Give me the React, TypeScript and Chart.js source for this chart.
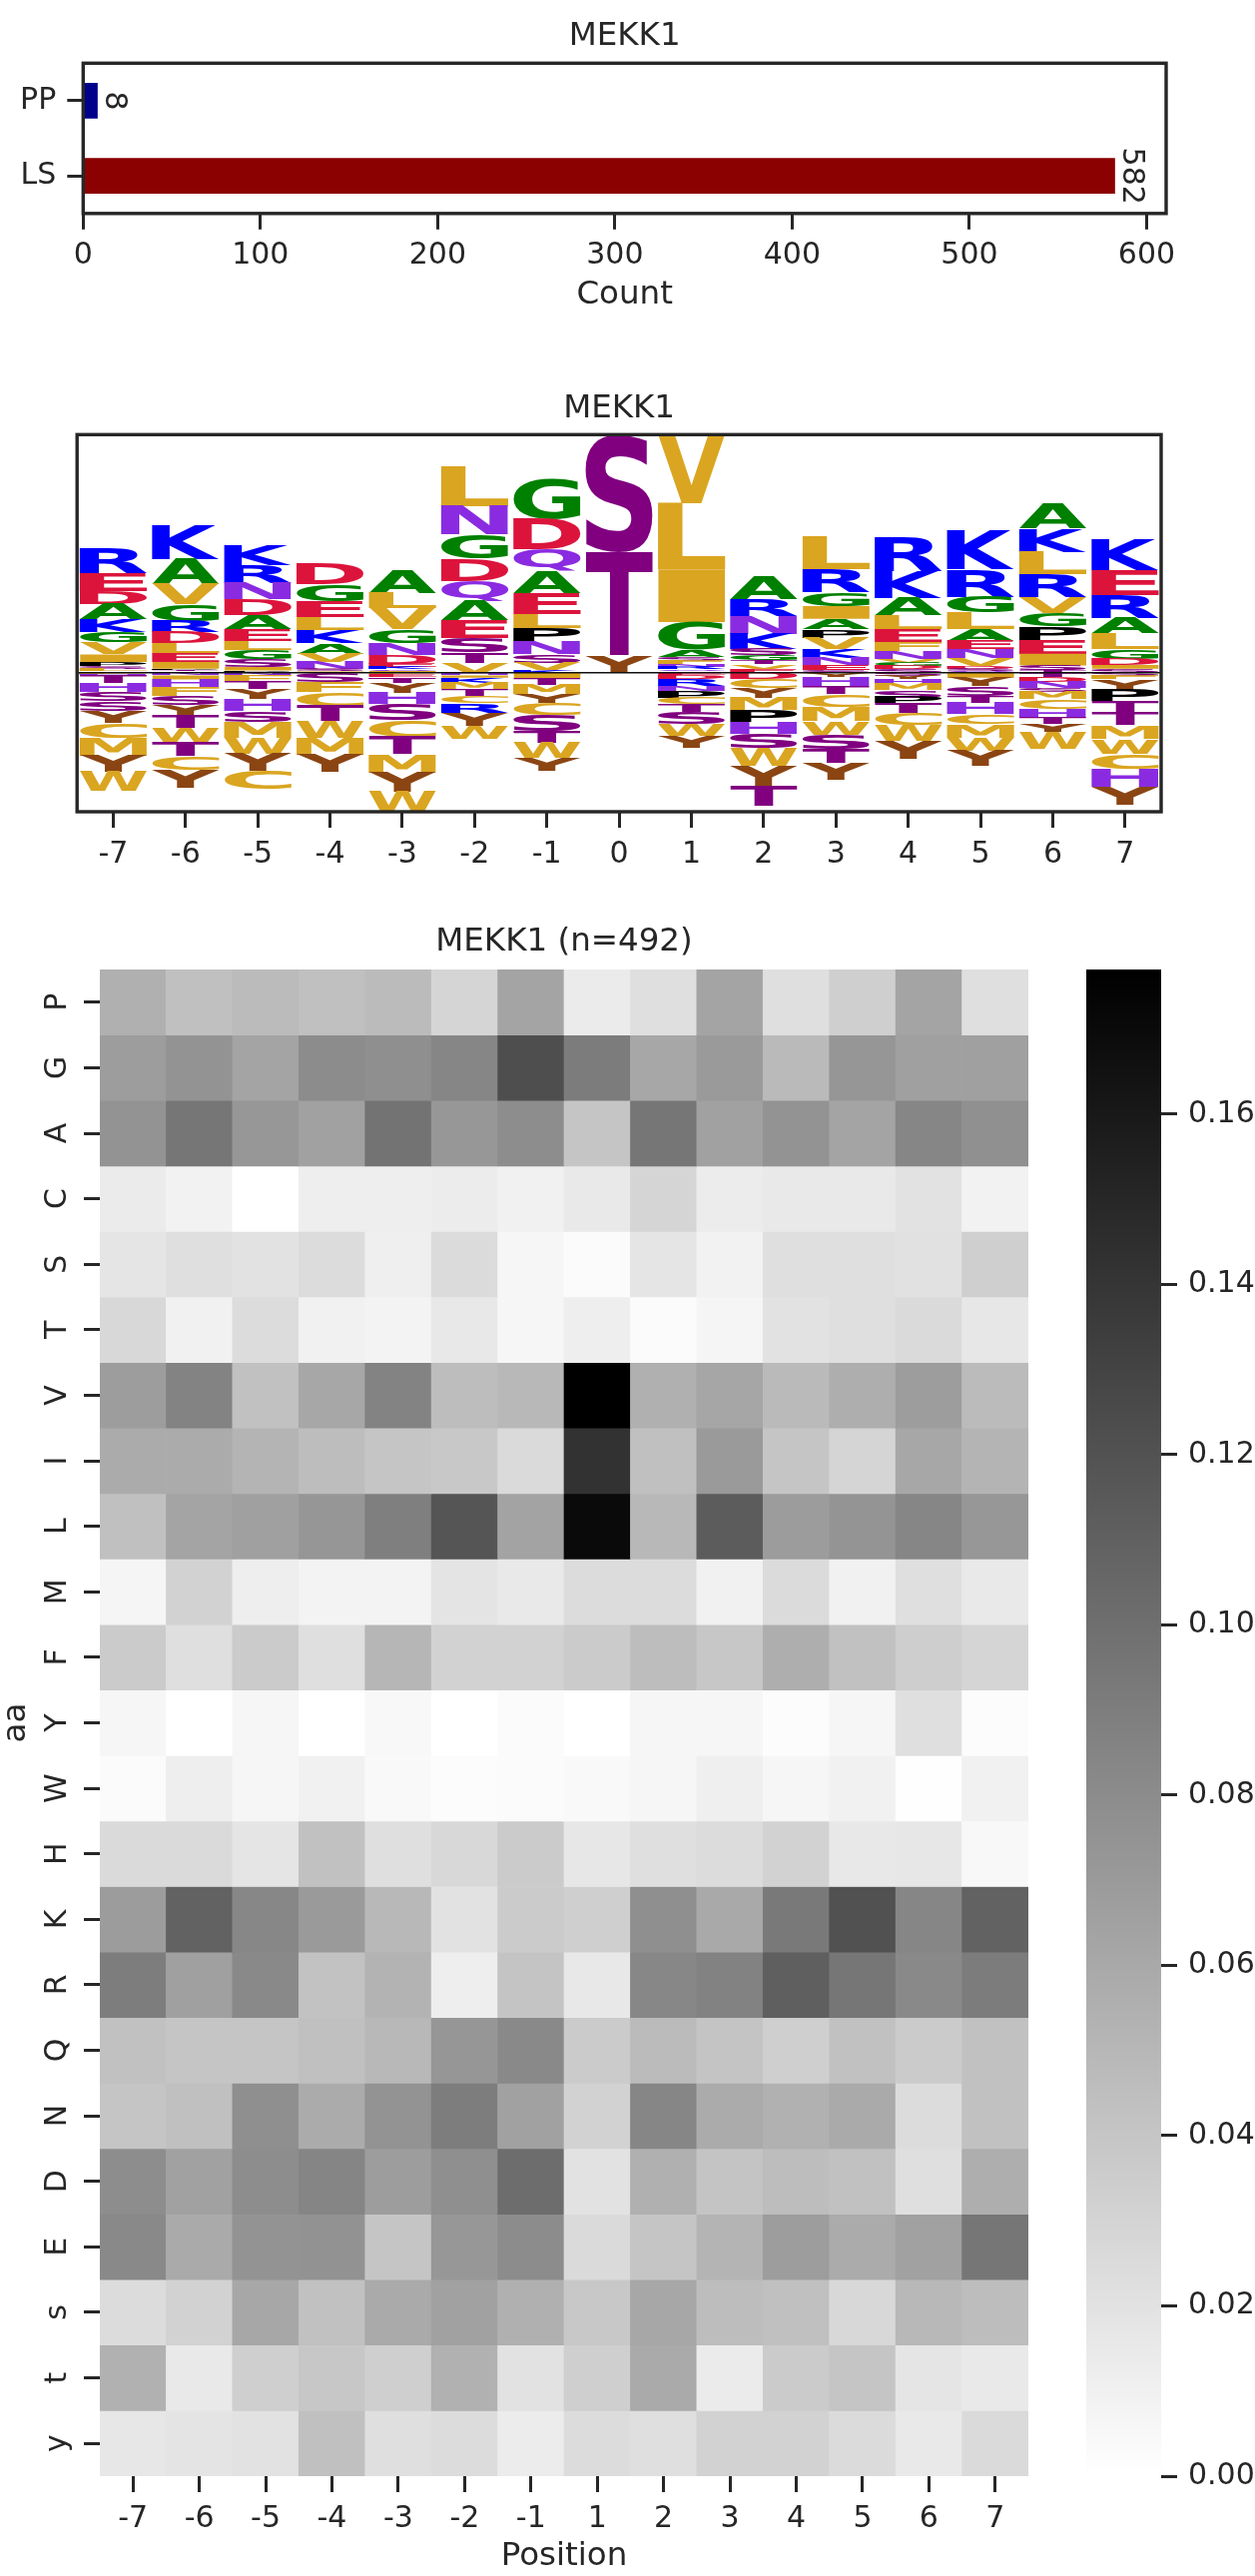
import React, { useEffect, useRef } from 'react';
import { Chart, registerables } from 'chart.js';

Chart.register(...registerables);

const FONT_FAMILY = '"DejaVu Sans", "Liberation Sans", sans-serif';
const INK = '#262626';
const TICK_FONT = 30;
const LABEL_FONT = 32.5;
Chart.defaults.font.family = FONT_FAMILY;
Chart.defaults.color = INK;

// ---------------- Panel 1: counts ----------------
const BAR_LABELS = ['PP', 'LS'];
const BAR_COUNTS = [8, 582];
const BAR_COLORS = ['#00008b', '#8b0000'];
const BAR_TICKS = [0, 100, 200, 300, 400, 500, 600];
const BAR_MAX = 611;

// ---------------- Panel 2: sequence logo ----------------
type Stack = [string, number][];
const LOGO_POSITIONS = [-7, -6, -5, -4, -3, -2, -1, 0, 1, 2, 3, 4, 5, 6, 7];
// positive values: letters above the baseline listed top -> bottom
// negative values: letters below the baseline listed baseline -> down
const LOGO_M7: Stack = [['R', 0.75], ['E', 0.55], ['D', 0.40], ['A', 0.45], ['K', 0.38], ['G', 0.32], ['V', 0.35], ['I', 0.23], ['P', 0.12], ['S', 0.08], ['L', 0.07], ['T', 0.05],
  ['F', -0.04], ['N', -0.04], ['T', -0.24], ['H', -0.26], ['S', -0.27], ['S', -0.30], ['Y', -0.35], ['C', -0.45], ['M', -0.53], ['Y', -0.50], ['W', -0.57]];
const LOGO_M6: Stack = [['K', 1.00], ['A', 0.77], ['V', 0.60], ['G', 0.50], ['R', 0.33], ['D', 0.34], ['L', 0.30], ['E', 0.26], ['I', 0.20], ['P', 0.04], ['T', 0.04], ['S', 0.04],
  ['N', -0.08], ['I', -0.12], ['H', -0.23], ['F', -0.27], ['S', -0.28], ['Y', -0.30], ['T', -0.37], ['W', -0.43], ['T', -0.42], ['C', -0.42], ['Y', -0.53]];
const LOGO_M5: Stack = [['K', 0.57], ['R', 0.53], ['N', 0.50], ['D', 0.48], ['A', 0.42], ['E', 0.35], ['L', 0.27], ['G', 0.28], ['S', 0.23], ['I', 0.10], ['P', 0.04], ['T', 0.03],
  ['N', -0.08], ['F', -0.20], ['T', -0.22], ['Y', -0.30], ['H', -0.35], ['S', -0.33], ['M', -0.47], ['W', -0.47], ['Y', -0.53], ['C', -0.55]];
const LOGO_M4: Stack = [['D', 0.60], ['G', 0.50], ['E', 0.47], ['L', 0.40], ['K', 0.40], ['A', 0.31], ['V', 0.25], ['N', 0.22], ['S', 0.06], ['I', 0.04],
  ['S', -0.28], ['F', -0.30], ['C', -0.42], ['T', -0.45], ['W', -0.50], ['M', -0.50], ['Y', -0.53]];
const LOGO_M3: Stack = [['A', 0.70], ['L', 0.45], ['V', 0.65], ['G', 0.42], ['N', 0.36], ['D', 0.25], ['E', 0.10], ['K', 0.07], ['Q', 0.05], ['I', 0.05],
  ['F', -0.08], ['E', -0.06], ['N', -0.04], ['T', -0.14], ['Y', -0.30], ['H', -0.33], ['S', -0.47], ['C', -0.50], ['T', -0.53], ['M', -0.55], ['Y', -0.58], ['W', -0.57]];
const LOGO_M2: Stack = [['L', 1.22], ['N', 0.85], ['G', 0.73], ['D', 0.67], ['Q', 0.60], ['A', 0.57], ['E', 0.53], ['S', 0.45], ['T', 0.30], ['V', 0.30],
  ['H', -0.08], ['I', -0.07], ['K', -0.15], ['M', -0.20], ['T', -0.20], ['C', -0.22], ['R', -0.28], ['Y', -0.38], ['W', -0.40]];
const LOGO_M1: Stack = [['G', 1.23], ['D', 0.92], ['Q', 0.65], ['A', 0.65], ['E', 0.63], ['L', 0.42], ['P', 0.40], ['N', 0.40], ['S', 0.25], ['V', 0.22], ['K', 0.08],
  ['I', -0.18], ['T', -0.18], ['M', -0.29], ['Y', -0.27], ['C', -0.36], ['S', -0.47], ['T', -0.35], ['W', -0.45], ['Y', -0.40]];
const LOGO_0: Stack = [['S', 3.54], ['T', 3.10], ['Y', 0.50]];
const LOGO_P1: Stack = [['V', 2.06], ['L', 1.98], ['I', 1.58], ['G', 0.84], ['A', 0.20], ['S', 0.13], ['F', 0.10], ['N', 0.08], ['R', 0.07], ['Q', 0.05], ['K', 0.05],
  ['E', -0.08], ['D', -0.12], ['R', -0.20], ['N', -0.15], ['P', -0.20], ['C', -0.20], ['T', -0.23], ['S', -0.37], ['W', -0.35], ['Y', -0.35]];
const LOGO_P2: Stack = [['A', 0.68], ['R', 0.50], ['N', 0.55], ['K', 0.45], ['S', 0.18], ['G', 0.14], ['T', 0.13], ['V', 0.13], ['E', 0.12],
  ['D', -0.18], ['C', -0.27], ['Y', -0.30], ['M', -0.37], ['P', -0.36], ['H', -0.34], ['S', -0.43], ['W', -0.55], ['Y', -0.58], ['T', -0.60]];
const LOGO_P3: Stack = [['L', 0.98], ['R', 0.68], ['G', 0.42], ['I', 0.38], ['A', 0.32], ['P', 0.25], ['V', 0.33], ['K', 0.27], ['N', 0.23], ['E', 0.14], ['S', 0.08],
  ['Y', -0.13], ['H', -0.27], ['T', -0.25], ['C', -0.37], ['M', -0.43], ['W', -0.40], ['S', -0.45], ['T', -0.42], ['Y', -0.50]];
const LOGO_P4: Stack = [['R', 1.00], ['K', 0.80], ['A', 0.53], ['L', 0.42], ['E', 0.38], ['F', 0.27], ['N', 0.23], ['V', 0.12], ['G', 0.10], ['D', 0.10], ['S', 0.10],
  ['S', -0.10], ['Y', -0.10], ['H', -0.15], ['M', -0.18], ['S', -0.22], ['P', -0.17], ['T', -0.30], ['C', -0.36], ['W', -0.47], ['Y', -0.53]];
const LOGO_P5: Stack = [['K', 1.17], ['R', 0.82], ['G', 0.48], ['L', 0.50], ['A', 0.35], ['E', 0.25], ['N', 0.27], ['V', 0.23], ['D', 0.08], ['S', 0.06], ['Q', 0.06],
  ['I', -0.15], ['Y', -0.25], ['S', -0.30], ['T', -0.20], ['H', -0.35], ['C', -0.30], ['M', -0.40], ['W', -0.40], ['Y', -0.45]];
const LOGO_P6: Stack = [['A', 0.73], ['K', 0.69], ['L', 0.68], ['R', 0.68], ['V', 0.47], ['G', 0.42], ['P', 0.40], ['E', 0.41], ['I', 0.35], ['S', 0.14], ['T', 0.08],
  ['T', -0.12], ['D', -0.16], ['N', -0.17], ['S', -0.13], ['M', -0.22], ['C', -0.30], ['H', -0.25], ['T', -0.20], ['Y', -0.23], ['W', -0.50]];
const LOGO_P7: Stack = [['K', 0.93], ['E', 0.75], ['R', 0.69], ['A', 0.45], ['L', 0.46], ['G', 0.30], ['D', 0.19], ['I', 0.11], ['S', 0.12],
  ['S', -0.10], ['F', -0.10], ['Y', -0.32], ['P', -0.33], ['T', -0.35], ['T', -0.38], ['M', -0.40], ['W', -0.44], ['C', -0.46], ['H', -0.54], ['Y', -0.53]];
const LOGO_STACKS = [LOGO_M7, LOGO_M6, LOGO_M5, LOGO_M4, LOGO_M3, LOGO_M2, LOGO_M1, LOGO_0,
  LOGO_P1, LOGO_P2, LOGO_P3, LOGO_P4, LOGO_P5, LOGO_P6, LOGO_P7];
const LOGO_YMIN = -4.17;
const LOGO_YMAX = 7.14;
const LETTER_HALF_WIDTH = 0.465;
const LETTER_COLORS: Record<string, string> = {
  A: '#008000', G: '#008000',
  K: '#0000ff', R: '#0000ff',
  D: '#dc143c', E: '#dc143c',
  N: '#8a2be2', Q: '#8a2be2', H: '#8a2be2',
  S: '#800080', T: '#800080',
  Y: '#8b4513',
  L: '#daa520', V: '#daa520', I: '#daa520', M: '#daa520', F: '#daa520', W: '#daa520', C: '#daa520',
  P: '#000000',
};

// ---------------- Panel 3: heatmap ----------------
const HEAT_POSITIONS = ['-7', '-6', '-5', '-4', '-3', '-2', '-1', '1', '2', '3', '4', '5', '6', '7'];
const HEAT_AA = ['P', 'G', 'A', 'C', 'S', 'T', 'V', 'I', 'L', 'M', 'F', 'Y', 'W', 'H', 'K', 'R', 'Q', 'N', 'D', 'E', 's', 't', 'y'];
const HEAT_P = [0.055, 0.044, 0.047, 0.044, 0.047, 0.029, 0.063, 0.014, 0.022, 0.063, 0.022, 0.033, 0.063, 0.022];
const HEAT_G = [0.068, 0.075, 0.063, 0.080, 0.078, 0.084, 0.123, 0.091, 0.061, 0.070, 0.048, 0.073, 0.066, 0.066];
const HEAT_A = [0.075, 0.095, 0.072, 0.065, 0.097, 0.072, 0.079, 0.040, 0.095, 0.065, 0.075, 0.063, 0.084, 0.077];
const HEAT_C = [0.014, 0.009, 0.000, 0.012, 0.012, 0.013, 0.010, 0.015, 0.029, 0.013, 0.015, 0.015, 0.020, 0.009];
const HEAT_S = [0.018, 0.022, 0.020, 0.024, 0.011, 0.025, 0.006, 0.003, 0.018, 0.009, 0.022, 0.022, 0.021, 0.033];
const HEAT_T = [0.027, 0.010, 0.024, 0.010, 0.008, 0.016, 0.006, 0.012, 0.003, 0.007, 0.020, 0.022, 0.026, 0.017];
const HEAT_V = [0.068, 0.086, 0.043, 0.061, 0.086, 0.046, 0.049, 0.177, 0.055, 0.062, 0.048, 0.056, 0.068, 0.047];
const HEAT_I = [0.058, 0.058, 0.052, 0.046, 0.040, 0.038, 0.026, 0.142, 0.044, 0.070, 0.040, 0.029, 0.061, 0.052];
const HEAT_L = [0.044, 0.063, 0.066, 0.073, 0.089, 0.118, 0.064, 0.170, 0.049, 0.113, 0.069, 0.074, 0.084, 0.072];
const HEAT_M = [0.007, 0.031, 0.012, 0.008, 0.008, 0.019, 0.015, 0.024, 0.024, 0.010, 0.025, 0.010, 0.022, 0.015];
const HEAT_F = [0.036, 0.022, 0.036, 0.022, 0.051, 0.031, 0.031, 0.036, 0.046, 0.039, 0.056, 0.043, 0.034, 0.029];
const HEAT_Y = [0.006, 0.000, 0.006, 0.000, 0.005, 0.000, 0.003, 0.000, 0.006, 0.006, 0.002, 0.006, 0.022, 0.002];
const HEAT_W = [0.003, 0.012, 0.006, 0.010, 0.004, 0.002, 0.003, 0.004, 0.006, 0.011, 0.006, 0.010, 0.001, 0.010];
const HEAT_H = [0.026, 0.026, 0.018, 0.043, 0.022, 0.027, 0.036, 0.017, 0.022, 0.024, 0.031, 0.016, 0.017, 0.005];
const HEAT_K = [0.069, 0.109, 0.083, 0.070, 0.049, 0.020, 0.036, 0.033, 0.078, 0.060, 0.093, 0.121, 0.084, 0.109];
const HEAT_R = [0.090, 0.066, 0.082, 0.042, 0.053, 0.012, 0.041, 0.016, 0.083, 0.087, 0.111, 0.095, 0.082, 0.091];
const HEAT_Q = [0.043, 0.040, 0.040, 0.044, 0.049, 0.073, 0.082, 0.036, 0.047, 0.041, 0.033, 0.043, 0.036, 0.043];
const HEAT_N = [0.040, 0.044, 0.078, 0.058, 0.075, 0.090, 0.065, 0.031, 0.084, 0.058, 0.054, 0.059, 0.024, 0.043];
const HEAT_D = [0.079, 0.065, 0.079, 0.085, 0.068, 0.078, 0.101, 0.020, 0.055, 0.041, 0.046, 0.043, 0.022, 0.056];
const HEAT_E = [0.082, 0.059, 0.075, 0.076, 0.040, 0.072, 0.080, 0.026, 0.040, 0.052, 0.068, 0.058, 0.065, 0.095];
const HEAT_s = [0.024, 0.031, 0.061, 0.043, 0.059, 0.065, 0.055, 0.038, 0.061, 0.046, 0.044, 0.027, 0.049, 0.046];
const HEAT_t = [0.054, 0.015, 0.033, 0.039, 0.033, 0.054, 0.020, 0.033, 0.059, 0.014, 0.036, 0.040, 0.018, 0.015];
const HEAT_y = [0.017, 0.019, 0.020, 0.044, 0.022, 0.024, 0.013, 0.024, 0.022, 0.031, 0.031, 0.025, 0.015, 0.026];
const HEAT_ROWS = [HEAT_P, HEAT_G, HEAT_A, HEAT_C, HEAT_S, HEAT_T, HEAT_V, HEAT_I, HEAT_L, HEAT_M, HEAT_F, HEAT_Y,
  HEAT_W, HEAT_H, HEAT_K, HEAT_R, HEAT_Q, HEAT_N, HEAT_D, HEAT_E, HEAT_s, HEAT_t, HEAT_y];
const CBAR_TICKS = [0, 0.02, 0.04, 0.06, 0.08, 0.10, 0.12, 0.14, 0.16];
const VMIN = 0;
const VMAX = Math.max(...HEAT_ROWS.map((r) => Math.max(...r)));

// ---------------- helpers ----------------
const cellColor = (v: number) => {
  const g = Math.round(255 * (1 - (v - VMIN) / (VMAX - VMIN)));
  return `rgb(${g},${g},${g})`;
};

const glyphCache: Record<string, { gl: number; gr: number; ga: number; gd: number }> = {};
function drawGlyph(ctx: CanvasRenderingContext2D, ch: string, color: string, x0: number, x1: number, yTop: number, yBot: number) {
  const w = x1 - x0;
  const h = yBot - yTop;
  if (w <= 0 || h <= 0.05) return;
  ctx.save();
  ctx.font = `bold 200px ${FONT_FAMILY}`;
  ctx.textAlign = 'left';
  ctx.textBaseline = 'alphabetic';
  let g = glyphCache[ch];
  if (!g) {
    const m = ctx.measureText(ch);
    g = { gl: m.actualBoundingBoxLeft, gr: m.actualBoundingBoxRight, ga: m.actualBoundingBoxAscent, gd: m.actualBoundingBoxDescent };
    glyphCache[ch] = g;
  }
  const gw = g.gl + g.gr;
  const gh = g.ga + g.gd;
  ctx.translate(x0, yTop);
  ctx.scale(w / gw, h / gh);
  ctx.fillStyle = color;
  ctx.fillText(ch, g.gl, g.ga);
  ctx.restore();
}

const framePlugin = {
  id: 'frame',
  afterDraw(chart: any) {
    const { ctx, chartArea: a } = chart;
    ctx.save();
    ctx.strokeStyle = INK;
    ctx.lineWidth = 3.4;
    ctx.strokeRect(a.left, a.top, a.right - a.left, a.bottom - a.top);
    ctx.restore();
  },
};

const makeTitlePlugin = (text: string, y: number) => ({
  id: 'centerTitle',
  afterDraw(chart: any) {
    const { ctx, chartArea: a } = chart;
    ctx.save();
    ctx.font = `${LABEL_FONT}px ${FONT_FAMILY}`;
    ctx.fillStyle = INK;
    ctx.textAlign = 'center';
    ctx.textBaseline = 'middle';
    ctx.fillText(text, (a.left + a.right) / 2, y);
    ctx.restore();
  },
});

const tickGrid = (tickLength: number) => ({
  display: true,
  drawOnChartArea: false,
  drawTicks: true,
  tickLength,
  tickWidth: 3,
  tickColor: INK,
  offset: false,
});

// ---------------- chart configs ----------------
function barConfig(): any {
  const barLabelPlugin = {
    id: 'barLabels',
    afterDatasetsDraw(chart: any) {
      const { ctx } = chart;
      const meta = chart.getDatasetMeta(0);
      meta.data.forEach((bar: any, i: number) => {
        ctx.save();
        ctx.translate(bar.x + 8, bar.y);
        ctx.rotate(Math.PI / 2);
        ctx.font = `${TICK_FONT}px ${FONT_FAMILY}`;
        ctx.fillStyle = INK;
        ctx.textAlign = 'center';
        ctx.textBaseline = 'alphabetic';
        ctx.fillText(String(BAR_COUNTS[i]), 0, 0);
        ctx.restore();
      });
    },
  };
  return {
    type: 'bar',
    data: {
      labels: BAR_LABELS,
      datasets: [{ data: BAR_COUNTS, backgroundColor: BAR_COLORS, barThickness: 35, borderWidth: 0 }],
    },
    options: {
      indexAxis: 'y',
      animation: false,
      responsive: false,
      maintainAspectRatio: false,
      events: [],
      layout: { padding: { top: 63.3, left: 0, right: 89, bottom: 0 } },
      plugins: { legend: { display: false }, tooltip: { enabled: false }, title: { display: false } },
      scales: {
        x: {
          type: 'linear',
          min: 0,
          max: BAR_MAX,
          afterBuildTicks: (s: any) => { s.ticks = BAR_TICKS.map((v) => ({ value: v })); },
          afterFit: (s: any) => { s.height = 116.2; },
          grid: tickGrid(16),
          border: { display: false },
          ticks: { font: { size: TICK_FONT }, color: INK, padding: 8, maxRotation: 0, callback: (v: any) => String(v) },
          title: { display: true, text: 'Count', font: { size: LABEL_FONT }, color: INK, padding: { top: 0, bottom: 15 } },
        },
        y: {
          type: 'category',
          afterFit: (s: any) => { s.width = 83.3; },
          grid: tickGrid(16),
          border: { display: false },
          ticks: { font: { size: TICK_FONT }, color: INK, padding: 11 },
        },
      },
    },
    plugins: [barLabelPlugin, framePlugin, makeTitlePlugin('MEKK1', 36.2)],
  };
}

function logoConfig(): any {
  const logoPlugin = {
    id: 'logoLetters',
    beforeDatasetsDraw(chart: any) {
      const { ctx, chartArea: a, scales } = chart;
      const x = scales.x;
      const y = scales.y;
      ctx.save();
      ctx.beginPath();
      ctx.rect(a.left, a.top, a.right - a.left, a.bottom - a.top);
      ctx.clip();
      LOGO_STACKS.forEach((stack, i) => {
        const pos = LOGO_POSITIONS[i];
        const x0 = x.getPixelForValue(pos - LETTER_HALF_WIDTH);
        const x1 = x.getPixelForValue(pos + LETTER_HALF_WIDTH);
        let top = stack.reduce((t, s) => (s[1] > 0 ? t + s[1] : t), 0);
        let bottom = 0;
        stack.forEach(([ch, v]) => {
          const color = LETTER_COLORS[ch] || '#000';
          if (v > 0) {
            drawGlyph(ctx, ch, color, x0, x1, y.getPixelForValue(top), y.getPixelForValue(top - v));
            top -= v;
          } else {
            drawGlyph(ctx, ch, color, x0, x1, y.getPixelForValue(bottom), y.getPixelForValue(bottom + v));
            bottom += v;
          }
        });
      });
      const y0 = y.getPixelForValue(0);
      ctx.strokeStyle = '#111';
      ctx.lineWidth = 1.5;
      ctx.beginPath();
      ctx.moveTo(a.left, y0);
      ctx.lineTo(a.right, y0);
      ctx.stroke();
      ctx.restore();
    },
  };
  return {
    type: 'scatter',
    data: { datasets: [{ data: [] }] },
    options: {
      animation: false,
      responsive: false,
      maintainAspectRatio: false,
      events: [],
      layout: { padding: { top: 65.3, left: 77.2, right: 94, bottom: 0 } },
      plugins: { legend: { display: false }, tooltip: { enabled: false }, title: { display: false } },
      scales: {
        x: {
          type: 'linear',
          min: -7.5,
          max: 7.5,
          afterBuildTicks: (s: any) => { s.ticks = LOGO_POSITIONS.map((v) => ({ value: v })); },
          afterFit: (s: any) => { s.height = 67; },
          grid: tickGrid(16),
          border: { display: false },
          ticks: { font: { size: TICK_FONT }, color: INK, padding: 9, maxRotation: 0, callback: (v: any) => String(v) },
        },
        y: { type: 'linear', display: false, min: LOGO_YMIN, max: LOGO_YMAX },
      },
    },
    plugins: [logoPlugin, framePlugin, makeTitlePlugin('MEKK1', 39.2)],
  };
}

function heatmapConfig(): any {
  const yLabelPlugin = {
    id: 'rotatedYLabels',
    afterDraw(chart: any) {
      const { ctx, scales } = chart;
      ctx.save();
      ctx.font = `${TICK_FONT}px ${FONT_FAMILY}`;
      ctx.fillStyle = INK;
      ctx.textAlign = 'center';
      ctx.textBaseline = 'middle';
      HEAT_AA.forEach((aa, i) => {
        const yy = scales.y.getPixelForValue(i + 0.5);
        ctx.save();
        ctx.translate(58, yy);
        ctx.rotate(-Math.PI / 2);
        ctx.fillText(aa, 0, 0);
        ctx.restore();
      });
      ctx.restore();
    },
  };
  return {
    type: 'bar',
    data: {
      labels: HEAT_POSITIONS,
      datasets: HEAT_ROWS.map((row, r) => ({
        label: HEAT_AA[r],
        data: row.map(() => [r, r + 1]),
        backgroundColor: row.map(cellColor),
        borderWidth: 0,
        barPercentage: 1,
        categoryPercentage: 1,
        grouped: false,
      })),
    },
    options: {
      animation: false,
      responsive: false,
      maintainAspectRatio: false,
      events: [],
      layout: { padding: { top: 71, left: 0, right: 227, bottom: 0 } },
      plugins: { legend: { display: false }, tooltip: { enabled: false }, title: { display: false } },
      scales: {
        x: {
          type: 'category',
          afterFit: (s: any) => { s.height = 100; },
          grid: tickGrid(16),
          border: { display: false },
          ticks: { font: { size: TICK_FONT }, color: INK, padding: 9, maxRotation: 0, autoSkip: false },
          title: { display: true, text: 'Position', font: { size: LABEL_FONT }, color: INK, padding: { top: 0, bottom: 0 } },
        },
        y: {
          type: 'linear',
          min: 0,
          max: HEAT_AA.length,
          reverse: true,
          afterBuildTicks: (s: any) => { s.ticks = HEAT_AA.map((_, i) => ({ value: i + 0.5 })); },
          afterFit: (s: any) => { s.width = 100; },
          grid: tickGrid(16),
          border: { display: false },
          ticks: { display: false },
          title: { display: true, text: 'aa', font: { size: LABEL_FONT, lineHeight: 1 }, color: INK, padding: { top: 0, bottom: 0 } },
        },
      },
    },
    plugins: [yLabelPlugin, makeTitlePlugin('MEKK1 (n=492)', 43.7)],
  };
}

function colorbarConfig(): any {
  const gradientPlugin = {
    id: 'cbarGradient',
    beforeDatasetsDraw(chart: any) {
      const { ctx, chartArea: a, scales } = chart;
      const y0 = scales.y.getPixelForValue(VMIN);
      const y1 = scales.y.getPixelForValue(VMAX);
      const grad = ctx.createLinearGradient(0, y0, 0, y1);
      grad.addColorStop(0, cellColor(VMIN));
      grad.addColorStop(1, cellColor(VMAX));
      ctx.save();
      ctx.fillStyle = grad;
      ctx.fillRect(a.left, a.top, a.right - a.left, a.bottom - a.top);
      ctx.restore();
    },
  };
  return {
    type: 'scatter',
    data: { datasets: [{ data: [] }] },
    options: {
      animation: false,
      responsive: false,
      maintainAspectRatio: false,
      events: [],
      layout: { padding: { top: 31, left: 28, right: 0, bottom: 50 } },
      plugins: { legend: { display: false }, tooltip: { enabled: false }, title: { display: false } },
      scales: {
        x: { type: 'linear', display: false, min: 0, max: 1 },
        y: {
          type: 'linear',
          position: 'right',
          min: VMIN,
          max: VMAX,
          afterBuildTicks: (s: any) => { s.ticks = CBAR_TICKS.map((v) => ({ value: v })); },
          afterFit: (s: any) => { s.width = 94; },
          grid: tickGrid(16),
          border: { display: false },
          ticks: { font: { size: TICK_FONT }, color: INK, padding: 11, callback: (v: any) => Number(v).toFixed(2) },
        },
      },
    },
    plugins: [gradientPlugin],
  };
}

// ---------------- components ----------------
function ChartBox(props: { left: number; top: number; width: number; height: number; build: () => any }) {
  const { left, top, width, height, build } = props;
  const ref = useRef<HTMLCanvasElement | null>(null);
  useEffect(() => {
    if (!ref.current) return;
    const chart = new Chart(ref.current, build());
    return () => chart.destroy();
  }, []);
  return (
    <canvas
      ref={ref}
      width={width}
      height={height}
      style={{ position: 'absolute', left, top, width, height, display: 'block' }}
    />
  );
}

export default function App() {
  return (
    <div style={{ position: 'absolute', left: 0, top: 0, width: 1257, height: 2580, background: '#ffffff', overflow: 'hidden' }}>
      <ChartBox left={0} top={0} width={1257} height={330} build={barConfig} />
      <ChartBox left={0} top={370} width={1257} height={510} build={logoConfig} />
      <ChartBox left={0} top={900} width={1257} height={1680} build={heatmapConfig} />
      <ChartBox left={1060} top={940} width={197} height={1590} build={colorbarConfig} />
    </div>
  );
}
